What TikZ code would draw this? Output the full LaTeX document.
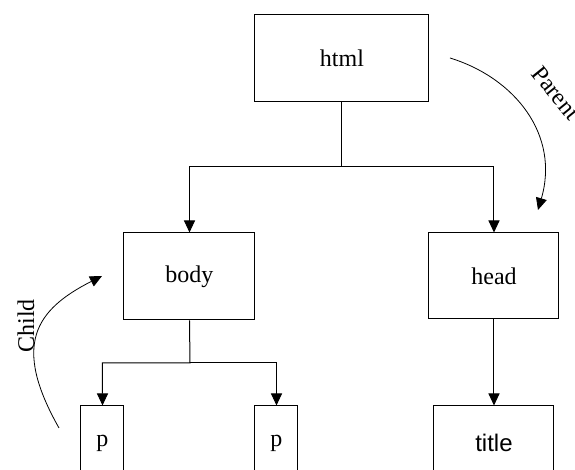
\documentclass[tikz,border=0pt]{standalone}
\usepackage{fontspec}
\setmainfont{Liberation Serif}
\newfontfamily\titlefont{Liberation Sans}
\usetikzlibrary{arrows.meta}
\tikzset{
  tag/.style={draw, inner sep=0pt, font=\fontsize{12}{14}\selectfont},
  bigtag/.style={tag, minimum width=87pt, minimum height=43.5pt},
  leaftag/.style={tag, minimum width=21.5pt, minimum height=37pt},
  hint/.style={font=\fontsize{12}{14}\selectfont},
}
\begin{document}
\begin{tikzpicture}[x=0.5pt, y=0.5pt, line width=0.5pt, >={Triangle[length=6pt,width=5.5pt]}]
    \useasboundingbox (0,0) rectangle (575,470);
    \clip (0,0) rectangle (575,470);
    % boxes
    \node[bigtag] (html) at (342,411.5) {html};
    \node[bigtag, minimum width=65.5pt] (body) at (189.5,193.5) {body};
    \node[bigtag, minimum width=65pt, minimum height=43pt] (head) at (494,194) {head};
    \node[leaftag] (p1) at (102.5,27) {p};
    \node[leaftag] (p2) at (276.5,27) {p};
    \node[leaftag, minimum width=60pt, font=\fontsize{12}{14}\titlefont] (title) at (494,27) {title};
    % tree lines
    \coordinate (htmlsplit) at (342,303);
    \coordinate (bodysplit) at (190,107);
    \draw[->] (html.south) -- (htmlsplit) -| (body.north);
    \draw[->] (htmlsplit) -| (head.north);
    \draw[->] (body.south) -- (bodysplit) -| (p1.north);
    \draw[->] (bodysplit) -| (p2.north);
    \draw[->] (head) -- (title);
    % child / parent
    \coordinate (childfrom) at (59,42);
    \coordinate (childto) at (102,194);
    \coordinate (parentfrom) at (450,412);
    \coordinate (parentto) at (538,260);
    \draw[->, line width=0.4pt] (childfrom) .. controls (12,125) and (35,160) .. (childto);
    \draw[->, line width=0.4pt] (parentfrom) .. controls (515,392) and (560,335) .. (parentto);
    \node[hint, rotate=90] (child) at (26,144) {Child};
    \node[hint, rotate=-51] (parent) at (556,377) {Parent};
\end{tikzpicture}
\end{document}
